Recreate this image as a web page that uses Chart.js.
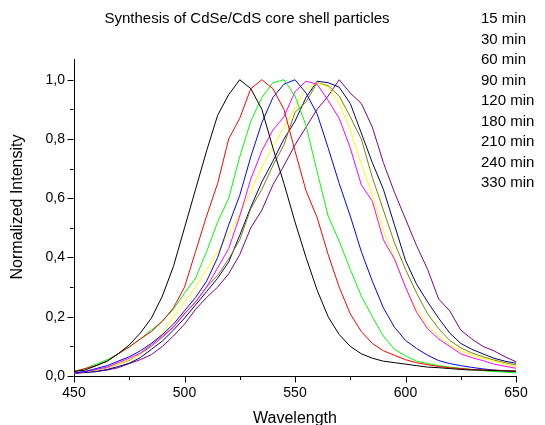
<!DOCTYPE html>
<html><head><meta charset="utf-8">
<script src="https://cdn.jsdelivr.net/npm/chart.js@4.4.1/dist/chart.umd.min.js"></script>
<style>html,body{margin:0;padding:0;background:#fff}#wrap{width:545px;height:425px;position:relative}</style>
</head><body><div id="wrap"><canvas id="c" width="545" height="425"></canvas></div>
<script>
const chartTitle = 'Synthesis of CdSe/CdS core shell particles';
const xTitle = 'Wavelength';
const yTitle = 'Normalized Intensity';
const wavelengths = [450,455,460,465,470,475,480,485,490,495,500,505,510,515,520,525,530,535,540,545,550,555,560,565,570,575,580,585,590,595,600,605,610,615,620,625,630,635,640,645,650];
const seriesLabels = ['15 min','30 min','60 min','90 min','120 min','180 min','210 min','240 min','330 min'];
const seriesColors = ['#000000','#ff0000','#00ff00','#0000ff','#ff00ff','#ffff00','#808000','#000080','#800080'];
const min15 = [0.015,0.02,0.035,0.05,0.075,0.105,0.145,0.195,0.27,0.37,0.5,0.63,0.76,0.88,0.95,1.0,0.97,0.9,0.77,0.65,0.52,0.4,0.29,0.2,0.14,0.1,0.075,0.06,0.05,0.045,0.04,0.035,0.03,0.028,0.025,0.022,0.02,0.02,0.018,0.017,0.017];
const min30 = [0.015,0.025,0.035,0.05,0.075,0.098,0.125,0.15,0.185,0.23,0.3,0.42,0.54,0.65,0.8,0.87,0.97,1.0,0.97,0.9,0.76,0.625,0.535,0.41,0.3,0.21,0.15,0.11,0.085,0.07,0.055,0.045,0.038,0.032,0.028,0.025,0.022,0.02,0.02,0.018,0.016];
const min60 = [0.015,0.025,0.04,0.055,0.075,0.098,0.125,0.155,0.185,0.225,0.28,0.33,0.42,0.52,0.6,0.74,0.86,0.94,0.99,1.0,0.945,0.845,0.69,0.54,0.455,0.36,0.27,0.2,0.135,0.09,0.068,0.05,0.042,0.035,0.03,0.026,0.022,0.018,0.015,0.013,0.011];
const min90 = [0.01,0.015,0.025,0.035,0.05,0.065,0.085,0.11,0.14,0.175,0.22,0.265,0.32,0.4,0.51,0.61,0.74,0.855,0.94,0.985,1.0,0.955,0.885,0.77,0.65,0.54,0.42,0.32,0.23,0.165,0.12,0.093,0.07,0.052,0.042,0.035,0.029,0.024,0.02,0.017,0.015];
const min120 = [0.01,0.015,0.022,0.03,0.045,0.06,0.077,0.105,0.135,0.165,0.21,0.25,0.3,0.365,0.43,0.54,0.665,0.76,0.83,0.875,0.96,0.995,0.985,0.93,0.87,0.77,0.645,0.59,0.46,0.395,0.3,0.215,0.16,0.125,0.1,0.075,0.062,0.052,0.04,0.033,0.026];
const min180 = [0.01,0.015,0.02,0.03,0.04,0.055,0.075,0.11,0.145,0.2,0.25,0.3,0.36,0.42,0.48,0.545,0.625,0.705,0.775,0.84,0.905,0.97,0.99,0.975,0.92,0.83,0.715,0.61,0.49,0.4,0.3,0.225,0.17,0.135,0.105,0.085,0.07,0.06,0.05,0.04,0.03];
const min210 = [0.01,0.015,0.02,0.028,0.04,0.053,0.075,0.1,0.13,0.165,0.21,0.25,0.3,0.34,0.395,0.46,0.565,0.63,0.71,0.78,0.89,0.925,0.99,0.98,0.945,0.875,0.8,0.67,0.56,0.45,0.36,0.28,0.21,0.16,0.12,0.095,0.078,0.065,0.054,0.045,0.037];
const min240 = [0.01,0.012,0.015,0.022,0.032,0.043,0.062,0.09,0.118,0.155,0.195,0.24,0.285,0.33,0.385,0.475,0.57,0.655,0.725,0.8,0.86,0.94,0.995,0.99,0.975,0.92,0.82,0.72,0.63,0.51,0.39,0.31,0.25,0.195,0.145,0.11,0.09,0.075,0.06,0.05,0.043];
const min330 = [0.008,0.012,0.015,0.02,0.028,0.042,0.055,0.072,0.1,0.135,0.175,0.225,0.265,0.3,0.345,0.41,0.5,0.56,0.645,0.71,0.78,0.84,0.9,0.945,1.0,0.955,0.92,0.84,0.72,0.62,0.53,0.44,0.36,0.26,0.22,0.155,0.125,0.1,0.085,0.065,0.048];
const seriesValues = [min15,min30,min60,min90,min120,min180,min210,min240,min330];

const FONT = 'Arial, "Liberation Sans", Helvetica, sans-serif';

const decor = {
  id: 'decor',
  afterDraw(chart) {
    const {ctx, scales: {x, y}} = chart;
    ctx.save();
    ctx.strokeStyle = '#000';
    ctx.lineWidth = 1;
    const xb = Math.round(y.getPixelForValue(0)) + 0.5;
    const yl = Math.round(x.getPixelForValue(x.min)) - 0.5;
    ctx.beginPath();
    const xt = x.ticks.map(t => t.value);
    xt.forEach((v, i) => {
      const p = Math.round(x.getPixelForValue(v)) + 0.5;
      ctx.moveTo(p, xb); ctx.lineTo(p, xb + 6);
      if (i < xt.length - 1) {
        const m = Math.round(x.getPixelForValue((v + xt[i + 1]) / 2)) + 0.5;
        ctx.moveTo(m, xb); ctx.lineTo(m, xb + 3.5);
      }
    });
    const yt = y.ticks.map(t => t.value);
    yt.forEach((v, i) => {
      const p = Math.round(y.getPixelForValue(v)) + 0.5;
      ctx.moveTo(yl, p); ctx.lineTo(yl - 6, p);
      if (i < yt.length - 1) {
        const m = Math.round(y.getPixelForValue((v + yt[i + 1]) / 2)) + 0.5;
        ctx.moveTo(yl, m); ctx.lineTo(yl - 3.5, m);
      }
    });
    ctx.stroke();
    ctx.fillStyle = '#000';
    ctx.font = '15px ' + FONT;
    ctx.textAlign = 'center';
    ctx.textBaseline = 'middle';
    ctx.fillText(chartTitle, 247, 19);
    ctx.textAlign = 'left';
    seriesLabels.forEach((s, i) => ctx.fillText(s, 481, 19 + i * 20.5));
    ctx.save();
    ctx.translate(18, 207);
    ctx.rotate(-Math.PI / 2);
    ctx.textAlign = 'center';
    ctx.font = '16px ' + FONT;
    ctx.fillText(yTitle, 0, 0);
    ctx.restore();
    ctx.restore();
  }
};

new Chart(document.getElementById('c'), {
  type: 'line',
  data: {
    datasets: seriesLabels.map((lab, k) => ({
      label: lab,
      data: wavelengths.map((w, i) => ({x: w, y: seriesValues[k][i]})),
      borderColor: seriesColors[k],
      backgroundColor: seriesColors[k],
      borderWidth: 1,
      pointRadius: 0,
      tension: 0,
      fill: false
    }))
  },
  options: {
    responsive: false,
    devicePixelRatio: 1,
    animation: false,
    layout: {padding: {left: 0, right: 29, top: 59, bottom: 0}},
    plugins: {legend: {display: false}, title: {display: false}, tooltip: {enabled: false}},
    scales: {
      x: {
        type: 'linear', min: 450, max: 650,
        afterFit(s) { s.height = 49; },
        ticks: {stepSize: 50, padding: 9, color: '#000', font: {family: FONT, size: 14}, maxRotation: 0, includeBounds: false},
        grid: {drawOnChartArea: false, drawTicks: false},
        border: {display: true, color: '#000', width: 1},
        title: {display: true, text: xTitle, color: '#000', font: {family: FONT, size: 16}, padding: {top: 0, bottom: -3}}
      },
      y: {
        type: 'linear', min: 0, max: 1.07,
        afterFit(s) { s.width = 74; },
        ticks: {stepSize: 0.2, padding: 9, color: '#000', font: {family: FONT, size: 14}, includeBounds: false,
          callback: v => v.toFixed(1).replace('.', ',')},
        grid: {drawOnChartArea: false, drawTicks: false},
        border: {display: true, color: '#000', width: 1}
      }
    }
  },
  plugins: [decor]
});
</script></body></html>
